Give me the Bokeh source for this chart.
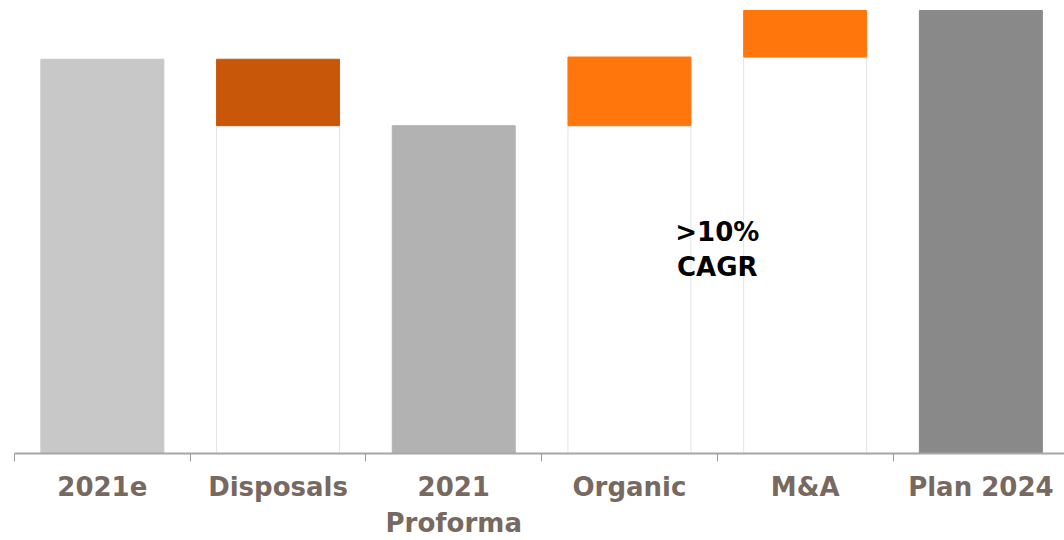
import numpy as np
from bokeh.plotting import figure
from bokeh.models import Range1d, FixedTicker
from bokeh.core.properties import value
from bokeh.embed import file_html
from bokeh.resources import INLINE

# ---- data (arbitrary units) ----
categories = ["2021e", "Disposals", "2021\nProforma", "Organic", "M&A", "Plan 2024"]
amounts = [8.9, -1.5, 7.4, 1.55, 1.05, 10.0]
kinds = ["total", "delta", "total", "delta", "delta", "total"]
colors = ["#c8c8c8", "#c8570a", "#b2b2b2", "#ff760d", "#ff760d", "#898989"]
annotation = [">10%", "CAGR"]

# ---- waterfall geometry from data ----
bottoms, tops, bases = [], [], []
running = 0.0
for a, k in zip(amounts, kinds):
    if k == "total":
        running = a
        bottoms.append(0.0); tops.append(a); bases.append(None)
    else:
        start = running
        running = running + a
        lo, hi = min(start, running), max(start, running)
        bottoms.append(lo); tops.append(hi); bases.append(lo)

xc = np.arange(len(categories)) + 0.5

p = figure(width=1064, height=540, output_backend="svg", toolbar_location=None,
           x_range=Range1d(0, 5.976), y_range=Range1d(0, 10.226),
           min_border_left=14, min_border_right=0, min_border_top=0, min_border_bottom=87)
p.outline_line_color = None
p.grid.visible = False
p.yaxis.visible = False

# invisible base bars for deltas
bx = [x for x, b in zip(xc, bases) if b is not None]
bt = [b for b in bases if b is not None]
p.vbar(x=bx, top=bt, bottom=0, width=0.70, fill_color="white", line_color="#e4e4e4", line_width=1)

p.vbar(x=xc, top=tops, bottom=bottoms, width=0.70, fill_color=colors, line_color=colors, line_width=1)

p.text(x=[4.0, 4.0], y=[5.0, 4.2], text=annotation, text_align="center", text_baseline="middle",
       text_font=value("DejaVu Sans"), text_font_style="bold", text_font_size="26px", text_color="black")

ax = p.xaxis[0]
ax.ticker = FixedTicker(ticks=list(xc), minor_ticks=list(range(len(categories) + 1)))
ax.major_label_overrides = {float(x): c for x, c in zip(xc, categories)}
ax.major_tick_out = 0
ax.major_tick_in = 0
ax.minor_tick_out = 8
ax.minor_tick_in = 0
ax.minor_tick_line_color = "#999999"
ax.axis_line_color = "#a6a6a6"
ax.axis_line_width = 2
ax.major_label_text_font = "DejaVu Sans"
ax.major_label_text_font_style = "bold"
ax.major_label_text_font_size = "26px"
ax.major_label_text_color = "#77695f"
ax.major_label_standoff = 10

open("out.html", "w").write(file_html(p, INLINE))
